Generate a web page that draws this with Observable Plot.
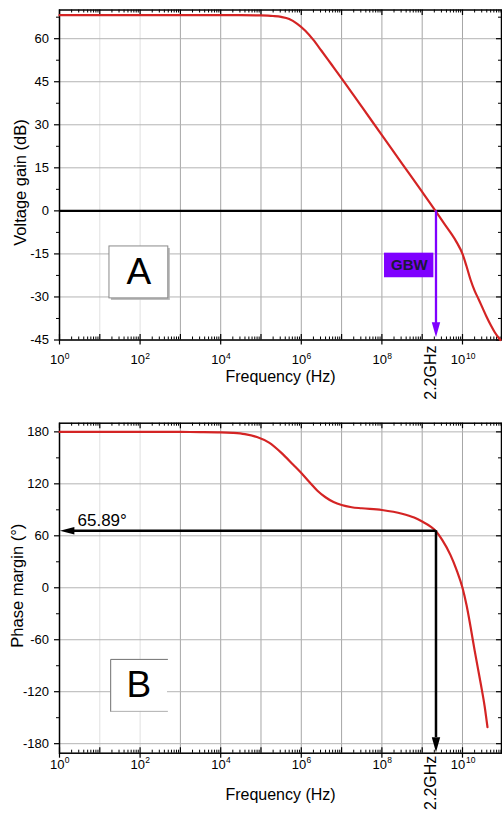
<!DOCTYPE html>
<html><head><meta charset="utf-8">
<script src="https://cdn.jsdelivr.net/npm/d3@7"></script>
<script src="https://cdn.jsdelivr.net/npm/@observablehq/plot@0.6"></script>
<style>
html,body{margin:0;padding:0;background:#fff;overflow:hidden;}
#c{width:502px;}
#c svg{display:block;}
</style></head><body><div id="c"></div>
<script>
// ---- data ----
const gainLogF = [0, 1, 2, 3, 4, 4.5, 5, 5.3, 5.5, 5.7, 5.9, 6.1, 6.3, 6.5, 6.75, 7, 7.5, 8, 8.5, 9, 9.33, 9.5, 9.7, 9.85, 10, 10.1, 10.2, 10.3, 10.4, 10.5, 10.6, 10.7, 10.8, 10.9, 10.94];
const gainDb   = [68.2, 68.2, 68.2, 68.2, 68.2, 68.2, 68.1, 67.9, 67.6, 66.9, 65.2, 62.8, 59.6, 55.8, 51.0, 46.2, 36.3, 26.4, 16.5, 6.6, 0, -3.5, -7.5, -10.8, -15, -19.3, -24, -27.8, -30.8, -33.9, -37, -39.8, -42.3, -44.3, -45];
const phaseLogF = [0, 1, 2, 3, 3.5, 4, 4.3, 4.6, 4.9, 5.2, 5.5, 5.8, 6.0, 6.2, 6.4, 6.6, 6.8, 7.0, 7.25, 7.5, 8.0, 8.5, 8.8, 9.0, 9.2, 9.33, 9.5, 9.7, 9.85, 10.0, 10.1, 10.2, 10.3, 10.45, 10.55, 10.62];
const phaseDeg  = [180, 180, 180, 179.9, 179.8, 179.5, 178.8, 177.3, 174, 167.5, 156, 142, 132.5, 122, 112, 104.5, 99, 95.5, 93, 91.8, 89.8, 85.5, 81, 76.5, 71, 65.9, 55, 38, 21, 0, -20, -45, -72, -110, -137, -161];
const decadeExps = [0, 1, 2, 3, 4, 5, 6, 7, 8, 9, 10];
const labelExps = [0, 2, 4, 6, 8, 10];
const gainTicks = [-45, -30, -15, 0, 15, 30, 45, 60];
const phaseTicks = [-180, -120, -60, 0, 60, 120, 180];
const gbwHz = 2.2e9;
const gbwText = "2.2GHz";
const pmDeg = 65.89;
const pmText = "65.89°";
const gainLabel = "Voltage gain (dB)";
const phaseLabel = "Phase margin (°)";
const freqLabel = "Frequency (Hz)";

// ---- helpers ----
const FONT = "'Liberation Sans', Arial, Helvetica, sans-serif";
const RED = "#d42424";
const PURPLE = "#7f00ff";
const W = 502, ML = 59, MR = 1;
const PW = W - ML - MR;
const X_DOMAIN = [1, 10 ** 10.968];
const decades = decadeExps.map(e => 10 ** e);
const lightDecades = decades.filter((d, i) => i === 1 || i === 2);
const darkDecades = decades.filter((d, i) => i >= 3);
const labeledDecades = labelExps.map(e => 10 ** e);
const minors = decadeExps.flatMap(e => [2,3,4,5,6,7,8,9].map(m => m * 10 ** e)).filter(v => v < X_DOMAIN[1]);
const mids = (ticks, hi) => ticks.map(t => t + (ticks[1] - ticks[0]) / 2).filter(v => v < hi);

const headDown = {draw(ctx){ ctx.moveTo(0,0); ctx.lineTo(-4.2,-15); ctx.lineTo(4.2,-15); ctx.closePath(); }};
const headLeft = {draw(ctx){ ctx.moveTo(0,0); ctx.lineTo(14.5,-3.7); ctx.lineTo(14.5,3.7); ctx.closePath(); }};

function curveRows(lf, v){ return lf.map((e, i) => ({f: 10 ** e, v: v[i]})); }

function gridMarks(cfg){
  return [
    Plot.ruleX(lightDecades, {stroke: "#e0e0e0", strokeWidth: 1}),
    Plot.ruleX(darkDecades, {stroke: "#a6a6a6", strokeWidth: 1}),
    Plot.ruleY(cfg.yTicks, {stroke: "#b4b4b4", strokeWidth: 1}),
  ];
}
function axisMarks(cfg, PH){
  const yMinor = mids(cfg.yTicks, cfg.yDomain[1]);
  const one = labelExps.filter(e => e < 10), two = labelExps.filter(e => e >= 10);
  return [
    Plot.ruleX(minors, {insetTop: PH - 3, stroke: "black"}),
    Plot.ruleX(decades, {insetTop: PH - 5.5, stroke: "black", strokeWidth: 1.2}),
    Plot.ruleX(labeledDecades, {insetTop: PH, insetBottom: -5, stroke: "black", strokeWidth: 1.2}),
    Plot.ruleX(minors, {insetBottom: PH - 3, stroke: "black"}),
    Plot.ruleX(decades, {insetBottom: PH - 5.5, stroke: "black", strokeWidth: 1.2}),
    Plot.ruleY(cfg.yTicks, {insetLeft: -5, insetRight: PW, stroke: "black", strokeWidth: 1.2}),
    Plot.ruleY(yMinor, {insetLeft: -3, insetRight: PW, stroke: "black"}),
    Plot.ruleY(cfg.yTicks, {insetLeft: PW - 5, stroke: "black", strokeWidth: 1.2}),
    Plot.ruleY(yMinor, {insetLeft: PW - 3, stroke: "black"}),
    Plot.frame({stroke: "black", strokeWidth: 1.5}),
    Plot.text(cfg.yTicks, {y: d => d, text: d => String(d), frameAnchor: "left", dx: -10.5, textAnchor: "end", fontSize: 13, fill: "black"}),
    Plot.text(one, {x: e => 10 ** e, text: () => "10", frameAnchor: "bottom", dy: cfg.xlDy, dx: -2.25, lineAnchor: "bottom", textAnchor: "middle", fontSize: 13, fill: "black"}),
    Plot.text(one, {x: e => 10 ** e, text: e => String(e), frameAnchor: "bottom", dy: cfg.xlDy - 5.5, dx: 5.25, lineAnchor: "bottom", textAnchor: "start", fontSize: 8.5, fill: "black"}),
    Plot.text(two, {x: e => 10 ** e, text: () => "10", frameAnchor: "bottom", dy: cfg.xlDy, dx: -4.5, lineAnchor: "bottom", textAnchor: "middle", fontSize: 13, fill: "black"}),
    Plot.text(two, {x: e => 10 ** e, text: e => String(e), frameAnchor: "bottom", dy: cfg.xlDy - 5.5, dx: 3.5, lineAnchor: "bottom", textAnchor: "start", fontSize: 8.5, fill: "black"}),
    Plot.text([freqLabel], {text: d => d, frameAnchor: "bottom", dy: cfg.xtDy, lineAnchor: "bottom", textAnchor: "middle", fontSize: 16, fill: "black"}),
    Plot.text([cfg.yLabel], {text: d => d, frameAnchor: "left", dx: cfg.ytDx, dy: cfg.ytDy, rotate: -90, textAnchor: "middle", fontSize: 16.5, fill: "black"}),
    Plot.text([gbwHz], {x: d => d, text: () => gbwText, frameAnchor: "bottom", dy: cfg.gbwDy, rotate: -90, textAnchor: "end", fontSize: 16, fill: "black"})
  ];
}

function panel(cfg, extraBelow, extraAbove){
  const PH = cfg.height - cfg.marginTop - cfg.marginBottom;
  return Plot.plot({
    width: W, height: cfg.height,
    marginLeft: ML, marginRight: MR, marginTop: cfg.marginTop, marginBottom: cfg.marginBottom,
    x: {type: "log", domain: X_DOMAIN, axis: null},
    y: {domain: cfg.yDomain, axis: null},
    style: {fontFamily: FONT, background: "white", overflow: "visible"},
    marks: [
      ...gridMarks(cfg),
      ...extraBelow,
      ...axisMarks(cfg, PH),
      Plot.line(curveRows(cfg.lf, cfg.vals), {x: "f", y: "v", stroke: RED, strokeWidth: 2.2, curve: "monotone-x"}),
      ...extraAbove
    ]
  });
}

// ---- top panel: gain ----
const gainCfg = {height: 400, marginTop: 9.5, marginBottom: 60.5, yDomain: [-45, 70], yTicks: gainTicks,
  lf: gainLogF, vals: gainDb, yLabel: gainLabel, xlDy: 24, xtDy: 41.5, ytDx: -39, ytDy: 7.5, gbwDy: 5.5};
const gainChart = panel(gainCfg, [
  Plot.rect([0], {x1: 10 ** 1.29, x2: 10 ** 2.75, y1: -13.1, y2: -31.2, fill: "#b8b8b8"}),
  Plot.rect([0], {x1: 10 ** 1.24, x2: 10 ** 2.70, y1: -12.4, y2: -30.5, fill: "white", stroke: "#8a8a8a", strokeWidth: 1}),
  Plot.text(["A"], {x: 10 ** 1.97, y: -21.4, text: d => d, fontSize: 37, fill: "black"}),
  Plot.ruleY([0], {stroke: "black", strokeWidth: 2.2})
], [
  Plot.ruleX([gbwHz], {y1: 0, y2: -39.5, stroke: PURPLE, strokeWidth: 2.3}),
  Plot.dot([gbwHz], {x: d => d, y: () => -44, symbol: headDown, fill: PURPLE, stroke: "none", r: 4}),
  Plot.rect([0], {x1: 10 ** 8.065, x2: 10 ** 9.29, y1: -14.74, y2: -23.31, fill: PURPLE}),
  Plot.text(["GBW"], {x: 10 ** 8.68, y: -19.0, text: d => d, fontSize: 15, fontWeight: "bold", fill: "#1a1a38"})
]);

// ---- bottom panel: phase ----
const phaseCfg = {height: 417, marginTop: 22.7, marginBottom: 64.3, yDomain: [-191, 190], yTicks: phaseTicks,
  lf: phaseLogF, vals: phaseDeg, yLabel: phaseLabel, xlDy: 15.5, xtDy: 47, ytDx: -42, ytDy: -2.5, gbwDy: 2.5};
const phaseChart = panel(phaseCfg, [
  Plot.rect([0], {x1: 10 ** 1.27, x2: 10 ** 2.68, y1: -82.7, y2: -142.7, fill: "white"}),
  Plot.line([[10 ** 2.68, -82.7], [10 ** 1.27, -82.7], [10 ** 1.27, -142.7]], {stroke: "#707070", strokeWidth: 1}),
  Plot.line([[10 ** 1.27, -142.7], [10 ** 2.68, -142.7]], {stroke: "#b0b0b0", strokeWidth: 1}),
  Plot.text(["B"], {x: 10 ** 1.97, y: -113, text: d => d, fontSize: 37, fill: "black"})
], [
  Plot.ruleY([pmDeg], {x1: 10 ** 0.35, x2: gbwHz, stroke: "black", strokeWidth: 2.5}),
  Plot.ruleX([gbwHz], {y1: pmDeg, y2: -173, stroke: "black", strokeWidth: 2.5}),
  Plot.dot([0], {x: () => 10 ** 0.01, y: () => pmDeg, symbol: headLeft, fill: "black", stroke: "none", r: 4}),
  Plot.dot([0], {x: () => gbwHz, y: () => -190, symbol: headDown, fill: "black", stroke: "none", r: 4}),
  Plot.text([pmText], {x: 10 ** 0.447, y: pmDeg, text: d => d, dy: -5, lineAnchor: "bottom", textAnchor: "start", fontSize: 17, fill: "black"})
]);

document.getElementById("c").append(gainChart, phaseChart);
</script>
</body></html>
